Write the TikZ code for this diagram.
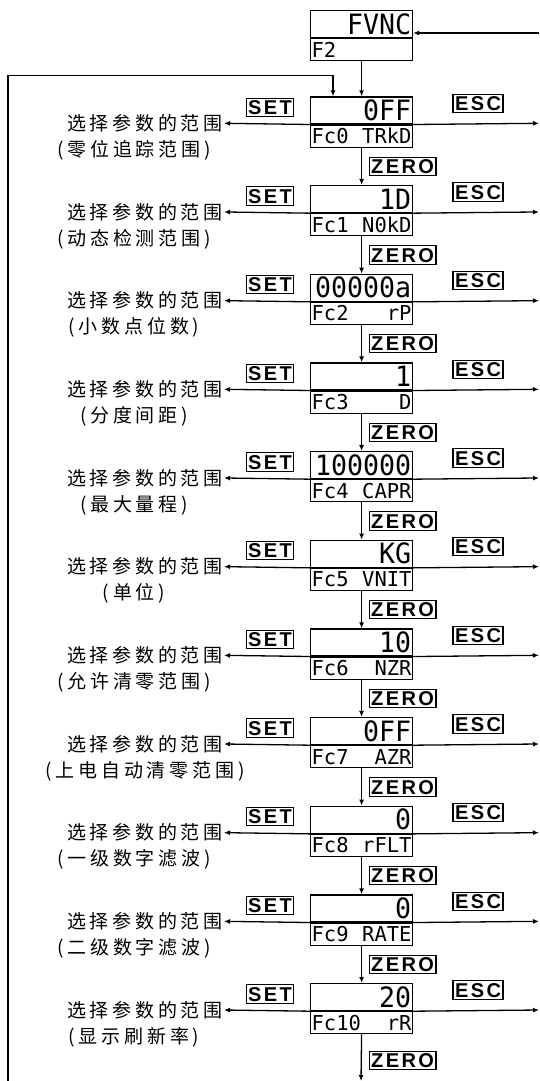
\documentclass[tikz,border=0pt]{standalone}
\usepackage{fontspec}
\usetikzlibrary{arrows.meta,calc}
\newfontfamily\cjk[LetterSpace=20]{Noto Sans CJK SC}
\newfontfamily\dispf[FakeStretch=0.95]{DejaVu Sans Mono}
\newfontfamily\displ{DejaVu Sans Mono}
\newfontfamily\labf[LetterSpace=12]{Liberation Sans}
\begin{document}
\begin{tikzpicture}[x=1pt,y=-1pt,
  arr/.style={line width=1.3pt,-{Latex[length=6pt,width=5pt]}},
  plain/.style={line width=1.3pt},
  upbox/.style={draw,line width=1.2pt,anchor=north west,minimum width=102pt,minimum height=27pt,
    inner xsep=1.5pt,inner ysep=0pt,text height=20.4pt,text depth=0pt,font=\dispf\fontsize{28}{28}\selectfont},
  lobox/.style={draw,line width=1.2pt,anchor=north west,minimum width=102pt,minimum height=22pt,
    inner xsep=1pt,inner ysep=0pt,text height=15pt,text depth=0pt,font=\displ\fontsize{20.5}{20.5}\selectfont},
  divider/.style={line width=2.4pt},
  keylab/.style={draw,line width=1.2pt,inner xsep=2pt,inner ysep=2pt,text height=14.3pt,text depth=0pt,
    font=\labf\bfseries\fontsize{20}{20}\selectfont},
  desc/.style={inner sep=1pt,font=\cjk\fontsize{19}{19}\selectfont}]
\useasboundingbox (0,0) rectangle (539,1081);
% top display
\node[upbox] (fu) at (310,10) {\makebox[99pt][r]{FVNC}};
\node[lobox] (fl) at (fu.south west) {\makebox[100pt][l]{F2}};
\draw[divider] (fu.south west) -- (fu.south east);
\coordinate (tin) at (539,33);
\draw[arr] (tin) -- (tin -| fu.east);
% parameter displays
\foreach \i/\up/\lo/\dsc/\cx in {
  0/0FF/Fc0\hfill TRkD/(零位追踪范围)/134,
  1/1D/Fc1\hfill N0kD/(动态检测范围)/134,
  2/00000a/Fc2\hfill rP/(小数点位数)/134,
  3/1/Fc3\hfill D/(分度间距)/134,
  4/100000/Fc4\hfill CAPR/(最大量程)/134,
  5/KG/Fc5\hfill VNIT/(单位)/134,
  6/10/Fc6\hfill NZR/(允许清零范围)/134,
  7/0FF/Fc7\hfill AZR/(上电自动清零范围)/145,
  8/0/Fc8\hfill rFLT/(一级数字滤波)/134,
  9/0/Fc9\hfill RATE/(二级数字滤波)/134,
  10/20/Fc10\hfill rR/(显示刷新率)/134} {
  \pgfmathsetmacro\T{96.3+88.67*\i}
  \node[upbox] (u\i) at (310,\T) {\makebox[99pt][r]{\up}};
  \node[lobox] (l\i) at (u\i.south west) {\makebox[100pt][s]{\lo}};
  \draw[divider] (u\i.south west) -- (u\i.south east);
  \node[desc,anchor=east] (s\i) at (224,\T+27) {选择参数的范围};
  \node[desc] (t\i) at (\cx,\T+54) {\dsc};
  \draw[arr] (u\i.south west) -- (s\i.east);
  \coordinate (e\i) at (539,\T+27);
  \draw[arr] (u\i.south east) -- (e\i);
  \node[keylab] (set\i) at (270,\T+11) {SET};
  \node[keylab] (esc\i) at (478,\T+7) {ESC};
}
% vertical flow
\draw[arr] (fl.south) -- (u0.north);
\foreach \i [evaluate=\i as \j using int(\i+1)] in {0,...,9} {
  \draw[arr] (l\i.south) -- (u\j.north);
  \node[keylab] (z\i) at ($(l\i.south)!0.5!(u\j.north)+(41,0)$) {ZERO};
}
\coordinate (bot) at (361,1081);
\draw[arr] (l10.south) -- (bot);
\node[keylab] (z10) at ($(l10.south)+(41,26)$) {ZERO};
% feedback loop
\coordinate (fb) at (8,1081);
\coordinate (fc) at ($(u0.north west)+(23,-21)$);
\draw[plain] (fb) -- (fb |- fc) -- (fc);
\draw[arr] (fc) -- (fc |- u0.north);
\end{tikzpicture}
\end{document}
